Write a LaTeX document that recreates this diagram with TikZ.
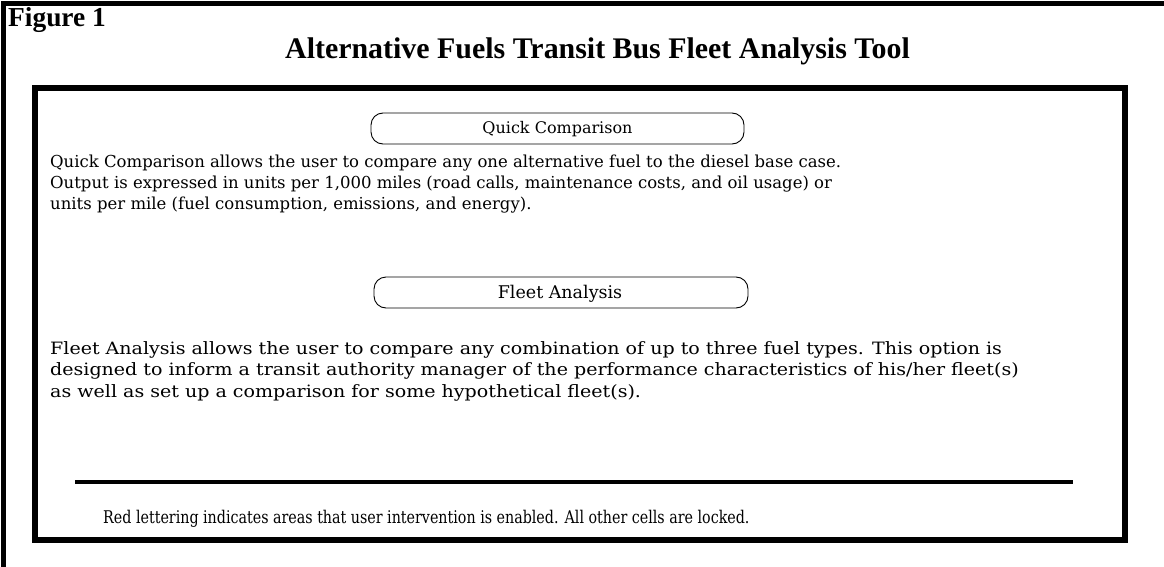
\documentclass[tikz,border=0pt]{standalone}
\usepackage{fontspec}
\setmainfont{DejaVu Serif}
\newfontfamily\timesfont{Liberation Serif}
\newcommand{\fawide}[1]{\scalebox{1.12}[1]{#1}}
\begin{document}
\begin{tikzpicture}[x=1pt,y=-1pt,
  frame/.style={line width=5pt},
  mainbox/.style={line width=6pt},
  pill/.style={draw, line width=0.9pt, rounded corners=12pt},
  body/.style={anchor=base west, inner sep=0pt, font=\fontsize{16.5}{18}\selectfont},
  fabody/.style={anchor=base west, inner sep=0pt, font=\fontsize{17}{18}\selectfont},
  label/.style={anchor=base, inner sep=0pt, font=\fontsize{16}{18}\selectfont}]
\useasboundingbox (0,0) rectangle (1164,567);
\fill[white] (0,0) rectangle (1164,567);
% outer frame (top and left)
\coordinate (otr) at (1164,4);
\coordinate (otl) at (3.5,4);
\coordinate (obl) at (3.5,567);
\draw[frame] (otr) -- (otl) -- (obl);
% inner box
\draw[mainbox] (35,88) rectangle (1125,540);
% headings
\node[anchor=base west, inner sep=0pt, font=\timesfont\bfseries\fontsize{27.4}{30}\selectfont] (fig) at (8,27) {Figure 1};
\node[anchor=base, inner sep=0pt, font=\timesfont\bfseries\fontsize{29.9}{32}\selectfont] (title) at (597.5,59) {Alternative Fuels Transit Bus Fleet Analysis Tool};
% quick comparison
\draw[pill] (371,113) rectangle (744,144);
\node[label] (qc) at (557.5,134) {Quick Comparison};
\node[body] (qc1) at (50,167) {Quick Comparison allows the user to compare any one alternative fuel to the diesel base case.};
\node[body] (qc2) at (50,188) {Output is expressed in units per 1,000 miles (road calls, maintenance costs, and oil usage) or};
\node[body] (qc3) at (50,209.5) {units per mile (fuel consumption, emissions, and energy).};
% fleet analysis
\draw[pill] (374,277) rectangle (748,308);
\node[label, font=\fontsize{17.5}{18}\selectfont] (fa) at (560,298) {Fleet Analysis};
\node[fabody] (fa1) at (50,354) {\fawide{Fleet Analysis allows the user to compare any combination of up to three fuel types. This option is}};
\node[fabody] (fa2) at (50,375) {\fawide{designed to inform a transit authority manager of the performance characteristics of his/her fleet(s)}};
\node[fabody] (fa3) at (50,397) {\fawide{as well as set up a comparison for some hypothetical fleet(s).}};
% rule
\coordinate (rl) at (75,482);
\coordinate (rr) at (1073,482);
\draw[line width=3.5pt] (rl) -- (rr);
\node[body, font=\fontsize{17.5}{18}\selectfont] (red) at (103,523) {\scalebox{0.815}[1]{Red lettering indicates areas that user intervention is enabled. All other cells are locked.}};
\end{tikzpicture}
\end{document}
